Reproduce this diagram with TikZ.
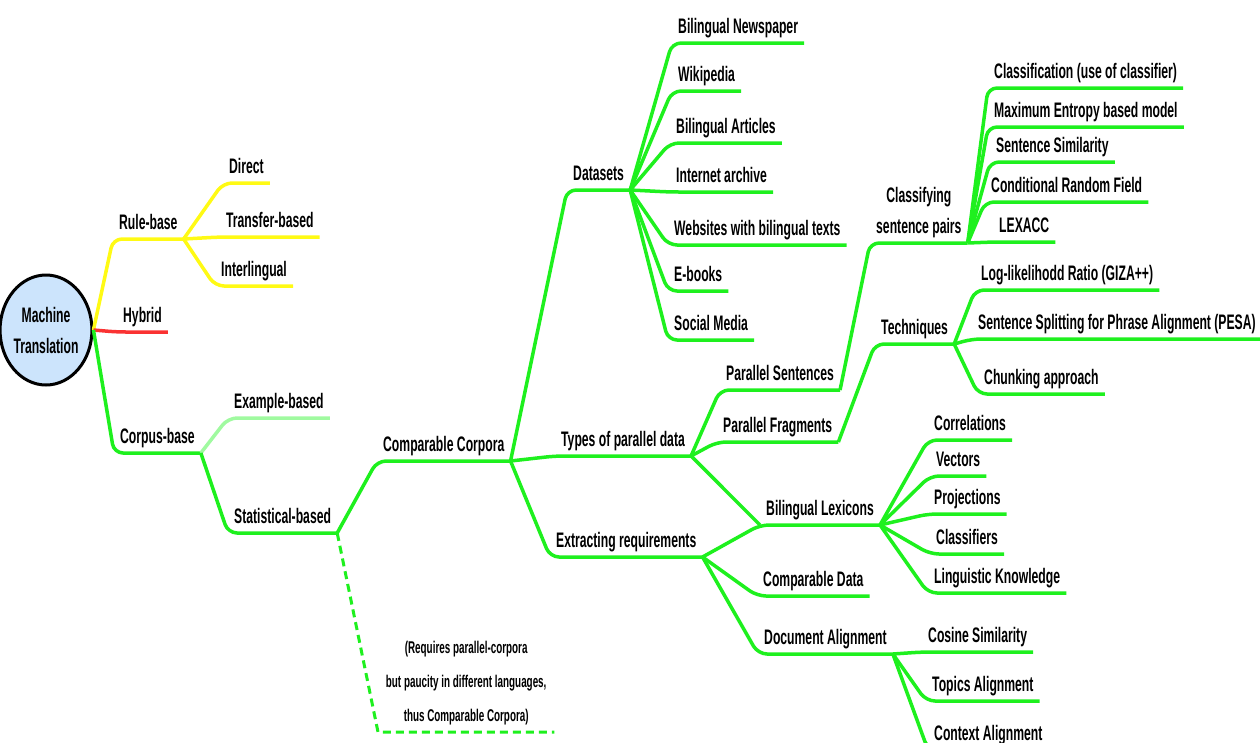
\documentclass[tikz,border=0pt]{standalone}
\usepackage{fontspec}
\setmainfont{Liberation Sans}[FakeStretch=0.58]
\usetikzlibrary{shapes.geometric}
\definecolor{brgreen}{RGB}{30,240,30}
\definecolor{bryellow}{RGB}{255,250,20}
\definecolor{brred}{RGB}{250,50,50}
\definecolor{brlight}{RGB}{160,250,160}
\definecolor{rootblue}{RGB}{204,228,252}
\begin{document}
\begin{tikzpicture}[x=1pt, y=-1pt, font=\fontsize{21}{31}\selectfont\bfseries,
lbl/.style={anchor=south west, inner xsep=6pt, inner ysep=3pt, text height=15pt, text depth=6pt},
twolbl/.style={anchor=south west, inner xsep=6pt, inner ysep=3pt, text depth=6pt, align=center},
rootnode/.style={ellipse, draw, line width=3pt, fill=rootblue, minimum width=75pt, minimum height=110pt, inner sep=0pt, align=center},
notenode/.style={anchor=south west, minimum width=176pt, inner xsep=0pt, inner ysep=5pt, text depth=5pt, align=center, font=\fontsize{17}{34}\selectfont\bfseries},
br/.style={line width=3.5pt, rounded corners=9pt, draw=brgreen},
yel/.style={br, draw=bryellow},
red/.style={br, draw=brred},
pale/.style={br, draw=brlight}]
\useasboundingbox (0,0) rectangle (1260,742);
\node[lbl] (rule) at (113,239) {Rule-base};
\node[lbl] (direct) at (223,183) {Direct};
\node[lbl] (transfer) at (220,237) {Transfer-based};
\node[lbl] (inter) at (215,286) {Interlingual};
\node[lbl] (hybrid) at (117,332) {Hybrid};
\node[lbl] (corpus) at (114,453) {Corpus-base};
\node[lbl] (example) at (228,418) {Example-based};
\node[lbl] (stat) at (228,533) {Statistical-based};
\node[lbl] (comp) at (377,461) {Comparable Corpora};
\node[notenode] (note) at (378,732) {(Requires parallel-corpora\\but paucity in different languages,\\thus Comparable Corpora)};
\node[lbl] (data) at (567,190) {Datasets};
\node[lbl] (news) at (672,43) {Bilingual Newspaper};
\node[lbl] (wiki) at (672,91) {Wikipedia};
\node[lbl] (art) at (670,143) {Bilingual Articles};
\node[lbl] (arch) at (670,192) {Internet archive};
\node[lbl] (web) at (668,245) {Websites with bilingual texts};
\node[lbl] (ebook) at (668,291) {E-books};
\node[lbl] (social) at (668,340) {Social Media};
\node[lbl] (types) at (555,456) {Types of parallel data};
\node[lbl] (psent) at (720,390) {Parallel Sentences};
\node[lbl] (pfrag) at (717,442) {Parallel Fragments};
\node[twolbl] (classif) at (870,243) {Classifying\\sentence pairs};
\node[lbl] (cls) at (988,88) {Classification (use of classifier)};
\node[lbl] (maxent) at (988,127) {Maximum Entropy based model};
\node[lbl] (sensim) at (990,162) {Sentence Similarity};
\node[lbl] (crf) at (985,202) {Conditional Random Field};
\node[lbl] (lexacc) at (993,242) {LEXACC};
\node[lbl] (tech) at (875,344) {Techniques};
\node[lbl] (llr) at (975,290) {Log-likelihodd Ratio (GIZA++)};
\node[lbl] (pesa) at (972,339) {Sentence Splitting for Phrase Alignment (PESA)};
\node[lbl] (chunk) at (978,394) {Chunking approach};
\node[lbl] (extract) at (550,557) {Extracting requirements};
\node[lbl] (lex) at (760,525) {Bilingual Lexicons};
\node[lbl] (corr) at (928,440) {Correlations};
\node[lbl] (vec) at (930,476) {Vectors};
\node[lbl] (proj) at (928,514) {Projections};
\node[lbl] (clsf) at (930,554) {Classifiers};
\node[lbl] (ling) at (928,593) {Linguistic Knowledge};
\node[lbl] (cdata) at (757,596) {Comparable Data};
\node[lbl] (docal) at (758,654) {Document Alignment};
\node[lbl] (cosine) at (922,652) {Cosine Similarity};
\node[lbl] (topics) at (926,701) {Topics Alignment};
\node[lbl] (context) at (928,750) {Context Alignment};
\node[rootnode] (mt) at (46,330) {Machine\\Translation};
\draw[yel] (mt.east) -- (rule.south west) -- (rule.south east);
\draw[yel] (rule.south east) -- (direct.south west) -- (direct.south east);
\draw[yel] (rule.south east) -- (transfer.south west) -- (transfer.south east);
\draw[yel] (rule.south east) -- (inter.south west) -- (inter.south east);
\draw[red] (mt.east) -- (hybrid.south west) -- (hybrid.south east);
\draw[br] (mt.east) -- (corpus.south west) -- (corpus.south east);
\draw[pale] (corpus.south east) -- (example.south west) -- (example.south east);
\draw[br] (corpus.south east) -- (stat.south west) -- (stat.south east);
\draw[br] (stat.south east) -- (comp.south west) -- (comp.south east);
\draw[br, line width=3pt, rounded corners=0pt, dash pattern=on 8pt off 5pt] (stat.south east) -- (note.south west) -- (note.south east);
\draw[br] (comp.south east) -- (data.south west) -- (data.south east);
\draw[br] (data.south east) -- (news.south west) -- (news.south east);
\draw[br] (data.south east) -- (wiki.south west) -- (wiki.south east);
\draw[br] (data.south east) -- (art.south west) -- (art.south east);
\draw[br] (data.south east) -- (arch.south west) -- (arch.south east);
\draw[br] (data.south east) -- (web.south west) -- (web.south east);
\draw[br] (data.south east) -- (ebook.south west) -- (ebook.south east);
\draw[br] (data.south east) -- (social.south west) -- (social.south east);
\draw[br] (comp.south east) -- (types.south west) -- (types.south east);
\draw[br] (types.south east) -- (psent.south west) -- (psent.south east);
\draw[br] (types.south east) -- (pfrag.south west) -- (pfrag.south east);
\draw[br] (psent.south east) -- (classif.south west) -- (classif.south east);
\draw[br] (classif.south east) -- (cls.south west) -- (cls.south east);
\draw[br] (classif.south east) -- (maxent.south west) -- (maxent.south east);
\draw[br] (classif.south east) -- (sensim.south west) -- (sensim.south east);
\draw[br] (classif.south east) -- (crf.south west) -- (crf.south east);
\draw[br] (classif.south east) -- (lexacc.south west) -- (lexacc.south east);
\draw[br] (pfrag.south east) -- (tech.south west) -- (tech.south east);
\draw[br] (tech.south east) -- (llr.south west) -- (llr.south east);
\draw[br] (tech.south east) -- (pesa.south west) -- (pesa.south east);
\draw[br] (tech.south east) -- (chunk.south west) -- (chunk.south east);
\draw[br] (comp.south east) -- (extract.south west) -- (extract.south east);
\draw[br] (types.south east) -- (lex.south west);
\draw[br] (extract.south east) -- (lex.south west) -- (lex.south east);
\draw[br] (lex.south east) -- (corr.south west) -- (corr.south east);
\draw[br] (lex.south east) -- (vec.south west) -- (vec.south east);
\draw[br] (lex.south east) -- (proj.south west) -- (proj.south east);
\draw[br] (lex.south east) -- (clsf.south west) -- (clsf.south east);
\draw[br] (lex.south east) -- (ling.south west) -- (ling.south east);
\draw[br] (extract.south east) -- (cdata.south west) -- (cdata.south east);
\draw[br] (extract.south east) -- (docal.south west) -- (docal.south east);
\draw[br] (docal.south east) -- (cosine.south west) -- (cosine.south east);
\draw[br] (docal.south east) -- (topics.south west) -- (topics.south east);
\draw[br] (docal.south east) -- (context.south west) -- (context.south east);
\end{tikzpicture}
\end{document}
